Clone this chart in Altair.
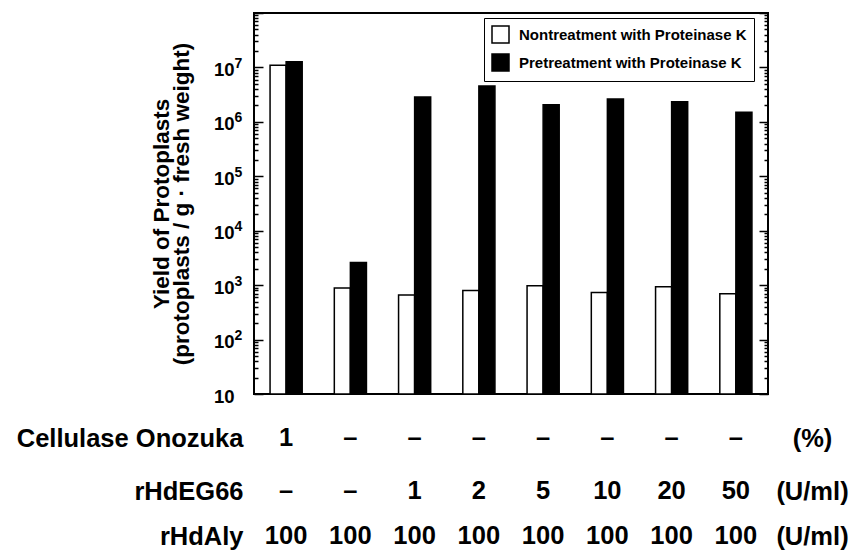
import altair as alt
import pandas as pd

FONT = "Liberation Sans"

# ---------------- data ----------------
conditions = ["Cel1", "Aly", "EG1", "EG2", "EG5", "EG10", "EG20", "EG50"]
series = ["Nontreatment with Proteinase K", "Pretreatment with Proteinase K"]
nontreatment = [1.1e7, 890, 656, 800, 970, 735, 933, 694]
pretreatment = [1.27e7, 2600, 2.87e6, 4.55e6, 2.07e6, 2.63e6, 2.35e6, 1.5e6]

row_names = ["Cellulase Onozuka", "rHdEG66", "rHdAly"]
row_units = ["(%)", "(U/ml)", "(U/ml)"]
cellulase = ["1", "–", "–", "–", "–", "–", "–", "–"]
eg66 = ["–", "–", "1", "2", "5", "10", "20", "50"]
aly = ["100", "100", "100", "100", "100", "100", "100", "100"]

decades = [10, 100, 1e3, 1e4, 1e5, 1e6, 1e7]
tick_values = [10, 100, 1e3, 1e4, 1e5, 1e6, 1e7, 1e8] + [m * d for d in decades for m in range(2, 10)]

y_title = ["Yield of Protoplasts", "(protoplasts / g · fresh weight)"]

# ---------------- layout ----------------
W, H = 514, 381

df = pd.DataFrame({
    "cond": conditions * 2,
    "series": [series[0]] * 8 + [series[1]] * 8,
    "value": nontreatment + pretreatment,
})

xscale = alt.Scale(paddingInner=0.5, paddingOuter=0.25)
yscale = alt.Scale(type="log", domain=[10, 1e8], nice=False)

is_major = "abs(log(datum.value)/LN10 - round(log(datum.value)/LN10)) < 0.001"
tick_size = {"condition": {"test": is_major, "value": 9}, "value": 4}

ax_main = alt.Axis(orient="left", values=decades, labelExpr="'10'", ticks=False, tickSize=0,
                   domain=False, grid=False, labelFontSize=18.5, labelFontWeight="bold",
                   labelFont=FONT, labelColor="black", labelPadding=20, labelOffset=2,
                   title=y_title, titleFontSize=22.5, titleFontWeight="bold", titleFont=FONT,
                   titleColor="black", titlePadding=20, titleLineHeight=20)
ax_exp = alt.Axis(orient="left", values=decades,
                  labelExpr="datum.value >= 100 ? '' + round(log(datum.value)/LN10) : ''",
                  ticks=False, tickSize=0, domain=False, grid=False, labelAlign="left",
                  labelBaseline="alphabetic", labelPadding=20, labelFontSize=14,
                  labelFontWeight="bold", labelFont=FONT, labelColor="black", title=None)
ax_tick_l = alt.Axis(orient="right", offset=-W, values=tick_values, labels=False,
                     tickSize=tick_size, tickWidth=1.5, tickColor="black", domain=False,
                     grid=False, title=None)
ax_tick_r = alt.Axis(orient="left", offset=-W, values=tick_values, labels=False,
                     tickSize=tick_size, tickWidth=1.5, tickColor="black", domain=False,
                     grid=False, title=None)

base = alt.Chart(df)

bars = base.mark_bar(stroke="black", strokeWidth=1.5).encode(
    x=alt.X("cond:N", sort=conditions, scale=xscale, title=None,
            axis=alt.Axis(labels=False, ticks=True, tickSize=7, tickWidth=2,
                          tickColor="black", domain=False, grid=False)),
    xOffset=alt.XOffset("series:N", sort=series,
                        scale=alt.Scale(paddingInner=0, paddingOuter=0)),
    y=alt.Y("value:Q", scale=yscale, axis=ax_main),
    y2=alt.datum(10),
    fill=alt.Fill("series:N", scale=alt.Scale(domain=series, range=["white", "black"]),
                  legend=alt.Legend(orient="none", legendX=230, legendY=5, title=None,
                                    strokeColor="black", fillColor="white", padding=7,
                                    symbolType="square", symbolSize=289,
                                    symbolStrokeColor="black", symbolStrokeWidth=1.5,
                                    symbolOpacity=1, labelFontSize=15,
                                    labelFontWeight="bold", labelFont=FONT,
                                    labelColor="black", rowPadding=5, labelOffset=9,
                                    labelLimit=400)),
)


def ghost(axis):
    return base.mark_bar(opacity=0).encode(
        x=alt.X("cond:N", sort=conditions, scale=xscale, axis=None),
        y=alt.Y("value:Q", scale=yscale, axis=axis),
        y2=alt.datum(10),
    )


top = alt.layer(bars, ghost(ax_exp), ghost(ax_tick_l), ghost(ax_tick_r)).resolve_axis(
    y="independent"
).properties(width=W, height=H, view=alt.ViewBackground(stroke="black", strokeWidth=2))


def row_chart(name, unit, vals, h):
    d = pd.DataFrame({"cond": conditions, "val": vals, "row": [name] * len(conditions)})
    b = alt.Chart(d)
    xenc = alt.X("cond:N", sort=conditions, scale=xscale, axis=None)
    txt = b.mark_text(fontSize=25.5, fontWeight="bold", font=FONT, color="black").encode(
        x=xenc,
        y=alt.Y("row:N", title=None,
                axis=alt.Axis(orient="left", ticks=False, tickSize=0, domain=False,
                              grid=False, labelFontSize=25.5, labelFontWeight="bold",
                              labelFont=FONT, labelColor="black", labelPadding=11,
                              labelLimit=400)),
        text="val:N",
    )
    unit_layer = b.mark_text(fontSize=25.5, opacity=0).encode(
        x=xenc,
        y=alt.Y("row:N", title=None,
                axis=alt.Axis(orient="right", ticks=False, tickSize=0, domain=False,
                              grid=False, labelExpr="'" + unit + "'", labelAlign="center",
                              labelFontSize=25.5, labelFontWeight="bold", labelFont=FONT,
                              labelColor="black", labelPadding=44, labelLimit=400)),
        text="val:N",
    )
    return alt.layer(txt, unit_layer).resolve_axis(y="independent").properties(
        width=W, height=h)


r1 = row_chart(row_names[0], row_units[0], cellulase, 60)
r2 = row_chart(row_names[1], row_units[1], eg66, 42)
r3 = row_chart(row_names[2], row_units[2], aly, 44)

chart = alt.vconcat(top, r1, r2, r3, spacing=0).properties(
    padding={"left": 7, "top": 3, "right": 0, "bottom": 0}
).configure(font=FONT).configure_view(stroke="transparent")

chart.save("out.html", embed_options={"renderer": "svg", "actions": False})
